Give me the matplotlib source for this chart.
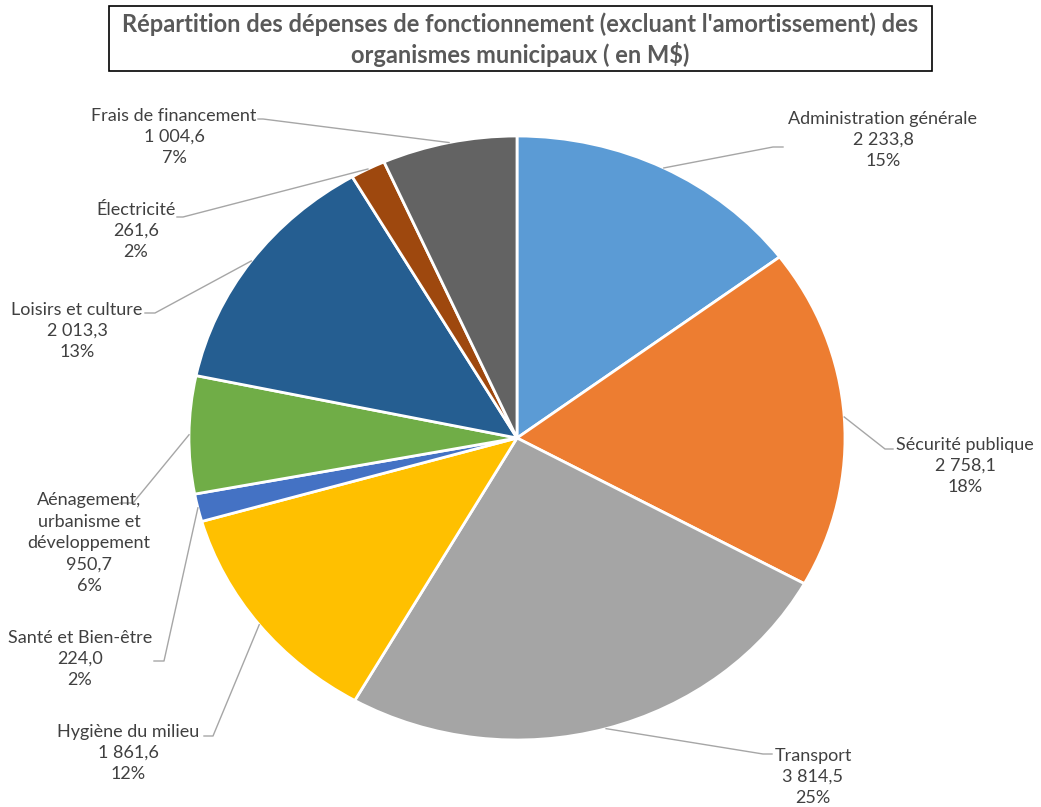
import matplotlib
matplotlib.use('Agg')
import matplotlib.pyplot as plt
from matplotlib.patches import Rectangle
import numpy as np

plt.rcParams.update({
    'font.family': ['Lato', 'DejaVu Sans'],
    'font.size': 12,
})

# data (M$)
categories = ['Administration générale', 'Sécurité publique', 'Transport',
              'Hygiène du milieu', 'Santé et Bien-être',
              'Aénagement,\nurbanisme et\ndéveloppement', 'Loisirs et culture',
              'Électricité', 'Frais de financement']
values = [2233.8, 2758.1, 3814.5, 1861.6, 224.0, 950.7, 2013.3, 261.6, 1004.6]
pct_labels = [15, 18, 25, 12, 2, 6, 13, 2, 7]
colors = ['#5B9BD5', '#ED7D31', '#A5A5A5', '#FFC000', '#4472C4',
          '#70AD47', '#255E91', '#9E480E', '#636363']

title = ("Répartition des dépenses de fonctionnement (excluant l'amortissement) des\n"
         "organismes municipaux ( en M$)")

W, H = 1041, 807
CX, CY, RX, RY = 517, 438, 328, 302   # pie centre / radii in pixels


def px(x, y):
    """pixel position -> data coords of the (elliptic) pie axes"""
    return (x - CX) / RX, (CY - y) / RY


# label layout: text centre, elbow of leader, end of leader (pixels)
label_pos = [
    ((883, 140), (773, 147), (783, 147)),
    ((965, 466), (885, 449), (893, 449)),
    ((813, 777), (763, 754), (772, 754)),
    ((128, 753), (213, 736), (204, 736)),
    ((80, 659), (164, 661), (154, 661)),
    ((89, 543), (133, 503), (120, 503)),
    ((77, 331), (155, 313), (145, 313)),
    ((136, 231), (183, 217), (177, 217)),
    ((174, 137), (263, 119), (258, 119)),
]


def fmt_val(v):
    return f"{v:,.1f}".replace(",", " ").replace(".", ",")


fig = plt.figure(figsize=(W / 100, H / 100), dpi=100)
ax = fig.add_axes([0, 0, 1, 1])

wedges, _ = ax.pie(values, colors=colors, startangle=90, counterclock=False,
                   radius=1, center=(0, 0),
                   wedgeprops=dict(edgecolor='white', linewidth=2))
ax.set_aspect('auto')
ax.set_xlim(px(0, 0)[0], px(W, 0)[0])
ax.set_ylim(px(0, H)[1], px(0, 0)[1])
ax.axis('off')

for w, name, v, p, (tc, elbow, end) in zip(wedges, categories, values,
                                           pct_labels, label_pos):
    mid = np.deg2rad((w.theta1 + w.theta2) / 2)
    ex, ey = np.cos(mid), np.sin(mid)
    bx, by = px(*elbow)
    fx, fy = px(*end)
    ax.plot([ex, bx, fx], [ey, by, fy], color='#A6A6A6', lw=1, zorder=1)
    tx, ty = px(*tc)
    ax.text(tx, ty, f"{name}\n{fmt_val(v)}\n{p}%", ha='center', va='center',
            multialignment='center', color='#404040', fontsize=13,
            linespacing=1.42)

# title box
fig.add_artist(Rectangle((109 / W, 1 - 71 / H), (932 - 109) / W, 65 / H,
                         transform=fig.transFigure, fill=False,
                         edgecolor='black', linewidth=1.2))
fig.text(520 / W, 1 - 40 / H, title, ha='center', va='center',
         fontsize=17, fontweight='bold', color='#595959', linespacing=1.3)

fig.savefig('out.png', dpi=100)
